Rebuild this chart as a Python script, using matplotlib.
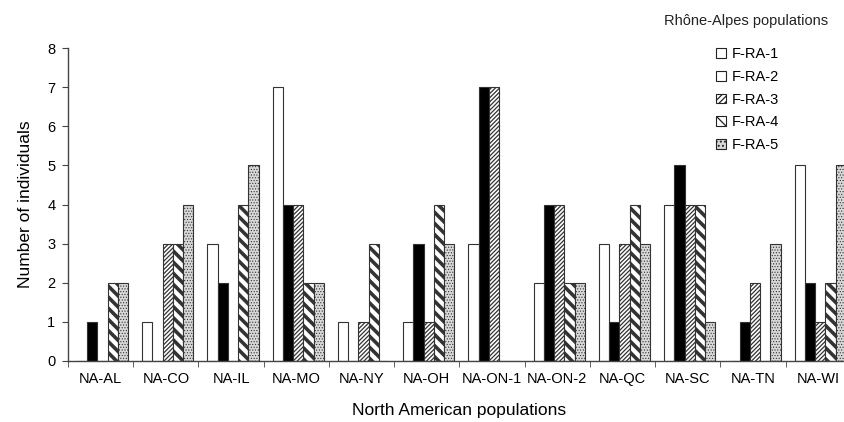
import matplotlib
matplotlib.use("Agg")
import matplotlib.pyplot as plt
import numpy as np
from matplotlib.patches import Patch

plt.rcParams['font.family'] = ['Liberation Sans', 'DejaVu Sans']

categories = ["NA-AL", "NA-CO", "NA-IL", "NA-MO", "NA-NY", "NA-OH", "NA-ON-1",
              "NA-ON-2", "NA-QC", "NA-SC", "NA-TN", "NA-WI"]
series_names = ["F-RA-1", "F-RA-2", "F-RA-3", "F-RA-4", "F-RA-5"]
fra1 = [0, 1, 3, 7, 1, 1, 3, 2, 3, 4, 0, 5]
fra2 = [1, 0, 2, 4, 0, 3, 7, 4, 1, 5, 1, 2]
fra3 = [0, 3, 0, 4, 1, 1, 7, 4, 3, 4, 2, 1]
fra4 = [2, 3, 4, 2, 3, 4, 0, 2, 4, 4, 0, 2]
fra5 = [2, 4, 5, 2, 0, 3, 0, 2, 3, 1, 3, 5]
series = [fra1, fra2, fra3, fra4, fra5]
yticks = [0, 1, 2, 3, 4, 5, 6, 7, 8]

styles = [
    dict(facecolor="white", hatch=None, hlw=1.0),
    dict(facecolor="black", hatch=None, hlw=1.0),
    dict(facecolor="white", hatch="////////", hlw=0.9),
    dict(facecolor="white", hatch="\\\\\\", hlw=2.6),
    dict(facecolor="#d8d8d8", hatch="......", hlw=0.5),
]

fig = plt.figure(figsize=(8.45, 4.22), dpi=100)
ax = fig.add_axes([68/845, 61/422, 783/845, 313/422])

x = np.arange(len(categories))
w = 0.157
for i, (vals, st) in enumerate(zip(series, styles)):
    plt.rcParams['hatch.linewidth'] = st['hlw']
    plt.rcParams['hatch.color'] = '#222222' if i < 4 else '#888888'
    bars = ax.bar(x + (i - 2) * w + 0.03, vals, width=w,
                  facecolor=st['facecolor'], edgecolor="#333333",
                  linewidth=0.8, hatch=st['hatch'])
    for b in bars:
        try:
            b.set_hatch_linewidth(st['hlw'])
        except Exception:
            pass
        if i == 4:
            try:
                b.set_hatchcolor('#888888')
            except Exception:
                pass

ax.set_xlim(-0.5, len(categories) - 0.5)
ax.set_ylim(0, 8)
ax.set_yticks(yticks)
ax.set_xticks(x)
ax.set_xticklabels(categories, fontsize=10.5)
ax.set_xticks(np.arange(len(categories) + 1) - 0.5, minor=True)
ax.tick_params(axis='x', which='major', length=0, pad=8)
ax.tick_params(axis='x', which='minor', length=4, direction='out', color='#444444')
ax.tick_params(axis='y', length=4, direction='out', labelsize=10.5, color='#444444', pad=5)
for s in ['top', 'right']:
    ax.spines[s].set_visible(False)
for s in ['left', 'bottom']:
    ax.spines[s].set_color('#444444')
    ax.spines[s].set_linewidth(1.0)

ax.set_xlabel("North American populations", fontsize=12.5, labelpad=12)
ax.set_ylabel("Number of individuals", fontsize=12.5, labelpad=10)

plt.rcParams['hatch.linewidth'] = 0.9
handles = [
    Patch(facecolor="white", edgecolor="#222222", linewidth=0.8),
    Patch(facecolor="white", edgecolor="#222222", linewidth=0.8),
    Patch(facecolor="white", edgecolor="#222222", linewidth=0.8, hatch="//////"),
    Patch(facecolor="white", edgecolor="#222222", linewidth=0.8, hatch="\\\\\\"),
    Patch(facecolor="#d8d8d8", edgecolor="#222222", linewidth=0.8, hatch="...."),
]
fig.text(828/845, 1 - 21/422, "Rhône-Alpes populations", fontsize=10.5,
         ha="right", va="center", color="#222222")
leg = fig.legend(handles, series_names,
                 loc="upper left", bbox_to_anchor=(706/845, 1.0 - 37/422),
                 frameon=False, fontsize=10.5,
                 handlelength=0.65, handleheight=0.65, handletextpad=0.45,
                 labelspacing=0.6, borderpad=0.2)

fig.savefig("out.png", dpi=100)
